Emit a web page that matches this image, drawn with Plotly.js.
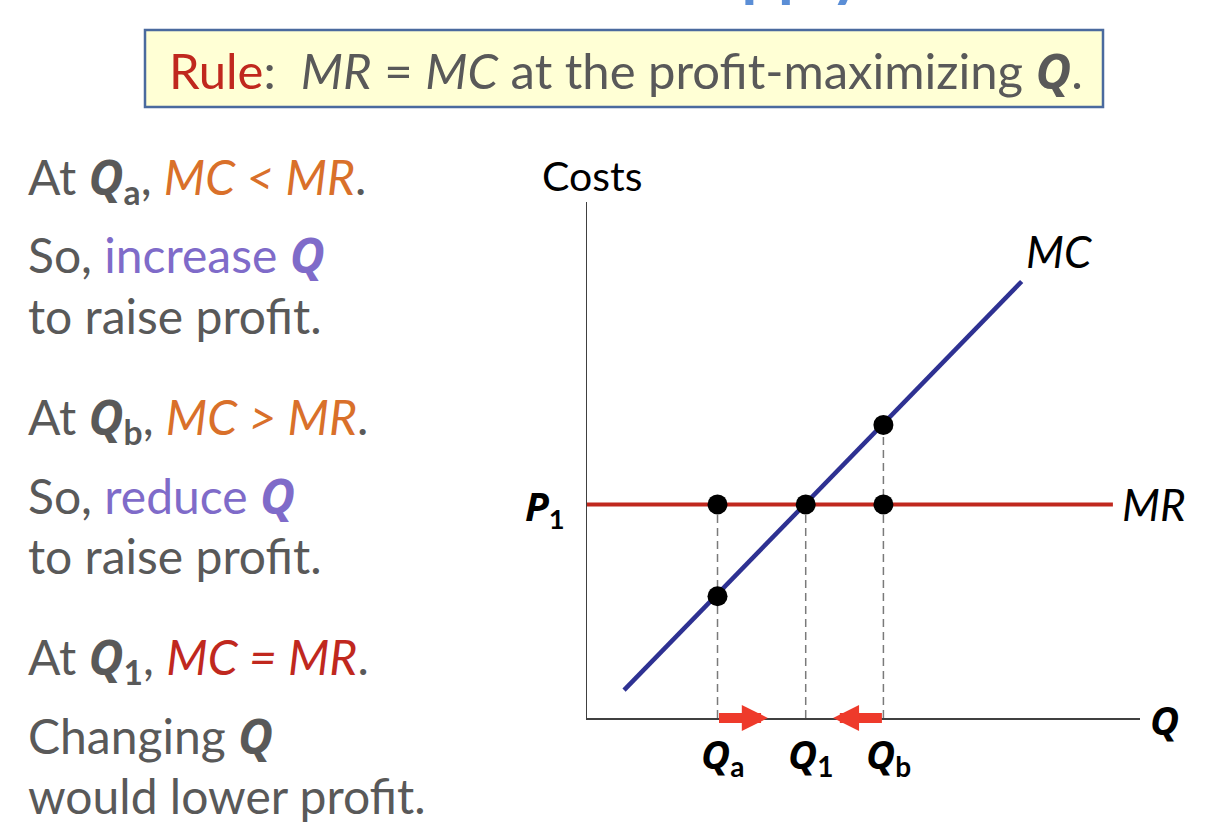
<!DOCTYPE html>
<html>
<head>
<meta charset="utf-8">
<script src="https://cdn.plot.ly/plotly-3.0.1.min.js"></script>
<style>
  html, body { margin: 0; padding: 0; background: #ffffff; }
  #chart { width: 1228px; height: 830px; }
</style>
</head>
<body>
<div id="chart"></div>
<script>
// ---- data ----
const mcQ = [0.67, 7.86];           // MC curve end points (quantity)
const mcCost = [0.54, 8.46];        // MC curve end points (cost)
const mrQ = [0, 9.51];              // MR line extent
const mrCost = [4.14, 4.14];        // MR = P1
const pointQ = [2.36, 2.36, 3.955, 5.36, 5.36];
const pointCost = [4.14, 2.36, 4.14, 4.14, 5.68];
const dropQ = [2.36, 3.955, 5.36];  // Qa, Q1, Qb
const dropTop = [4.14, 4.14, 5.68];
const qSubs = ['a', '1', 'b'];      // Q axis labels: Qa, Q1, Qb
const arrowFrom = [2.36, 5.36];     // arrow tails
const arrowTo = [3.27, 4.45];       // arrow heads

const FONT = 'Lato, "Open Sans", sans-serif';
const GRAY = '#595959';
const ORANGE = '#D9702A';
const PURPLE = '#7F6BC9';
const RED = '#C0281E';

// plot area in pixels: x 587..1140, y 202..718
const L = 587, R = 1140, T = 202, B = 718;
const px2paperX = p => (p - L) / (R - L);
const px2paperY = p => (B - p) / (B - T);

const traces = [];
// dashed drop lines
dropQ.forEach((q, i) => {
  traces.push({x: [q, q], y: [0, dropTop[i]], mode: 'lines', type: 'scatter',
    line: {color: '#7a7a7a', width: 1.5, dash: '8px,5px'}, hoverinfo: 'skip', showlegend: false});
});
traces.push({x: mrQ, y: mrCost, mode: 'lines', type: 'scatter',
  line: {color: RED, width: 4}, hoverinfo: 'skip', showlegend: false});
traces.push({x: mcQ, y: mcCost, mode: 'lines', type: 'scatter',
  line: {color: '#2E3192', width: 4.5}, hoverinfo: 'skip', showlegend: false});
traces.push({x: pointQ, y: pointCost, mode: 'markers', type: 'scatter',
  marker: {color: '#000000', size: 20}, hoverinfo: 'skip', showlegend: false});

const ann = [];
function txt(text, xp, yp, size, opts) {
  ann.push(Object.assign({xref: 'paper', yref: 'paper', x: px2paperX(xp), y: px2paperY(yp),
    text: text, showarrow: false, xanchor: 'left', yanchor: 'middle',
    font: {family: FONT, size: size, color: GRAY}}, opts || {}));
}
const c = (col, s) => `<span style="color:${col}">${s}</span>`;
// bold italic letter, drawn with a face that has a real bold italic
const bi = s => `<span style="font-family:Open Sans"><b><i>${s}</i></b></span>`;
const bq = bi('Q');

// left-hand explanation text
const leftSize = 48;
txt(`At ${bq}<sub><b>a</b></sub>, ${c(ORANGE, '<i>MC &lt; MR</i>')}.`, 26, 178, leftSize);
txt(`So, ${c(PURPLE, 'increase ' + bq)}`, 26, 255, leftSize);
txt('to raise profit.', 26, 315, leftSize);
txt(`At ${bq}<sub><b>b</b></sub>, ${c(ORANGE, '<i>MC &gt; MR</i>')}.`, 26, 418, leftSize);
txt(`So, ${c(PURPLE, 'reduce ' + bq)}`, 26, 495, leftSize);
txt('to raise profit.', 26, 555, leftSize);
txt(`At ${bq}<sub><b>1</b></sub>, ${c(RED, '<i>MC = MR</i>')}.`, 26, 658, leftSize);
txt(`Changing ${bq}`, 26, 735, leftSize);
txt('would lower profit.', 26, 795, leftSize);

// rule box text
txt(`${c(RED, 'Rule')}:  <i>MR</i> = <i>MC</i> at the profit-maximizing ${bq}.`, 626, 70, 49, {xanchor: 'center'});

// cut-off slide title at the very top
txt('<b>Supply</b>', 669, -30, 64, {xanchor: 'left', yanchor: 'middle', font: {family: FONT, size: 64, color: '#5B8ED6'}});

// chart labels
txt('Costs', 592, 176, 41, {xanchor: 'center', font: {family: FONT, size: 41, color: '#000000'}});
txt(bq, 1164, 719, 40, {xanchor: 'center', font: {family: FONT, size: 40, color: '#000000'}});
ann.push({xref: 'x', yref: 'y', x: mcQ[1], y: mcCost[1], text: '<i>MC</i>', showarrow: false,
  xanchor: 'left', yanchor: 'bottom', xshift: 2, yshift: 2, font: {family: FONT, size: 44, color: '#000'}});
ann.push({xref: 'x', yref: 'y', x: mrQ[1], y: mrCost[0], text: '<i>MR</i>', showarrow: false,
  xanchor: 'left', yanchor: 'middle', xshift: 7, font: {family: FONT, size: 44, color: '#000'}});
ann.push({xref: 'paper', yref: 'y', x: 0, y: mrCost[0], text: bi('P') + '<sub><b>1</b></sub>', showarrow: false,
  xanchor: 'right', yanchor: 'middle', xshift: -20, yshift: -3, font: {family: FONT, size: 39, color: '#000'}});
dropQ.forEach((q, i) => {
  ann.push({xref: 'x', yref: 'y', x: q, y: 0, text: bq + '<sub><b>' + qSubs[i] + '</b></sub>', showarrow: false,
    xanchor: 'center', yanchor: 'top', xshift: 5, yshift: -6, font: {family: FONT, size: 40, color: '#000'}});
});
// red arrows along the Q axis
arrowFrom.forEach((q0, i) => {
  ann.push({xref: 'x', yref: 'y', axref: 'x', ayref: 'y', x: arrowTo[i], y: 0, ax: q0, ay: 0,
    text: '', showarrow: true, arrowhead: 2, arrowsize: 0.52, arrowwidth: 10, arrowcolor: '#EE3A2B', standoff: 0});
});

const shapes = [{
  type: 'rect', xref: 'paper', yref: 'paper',
  x0: px2paperX(145), x1: px2paperX(1103), y0: px2paperY(107), y1: px2paperY(30),
  fillcolor: '#FFFFD5', line: {color: '#4A6A9E', width: 2.5}, layer: 'below'
}];

const layout = {
  width: 1228, height: 830,
  margin: {l: L, r: 1228 - R, t: T, b: 830 - B, pad: 0},
  paper_bgcolor: '#ffffff', plot_bgcolor: '#ffffff',
  showlegend: false, hovermode: false,
  xaxis: {range: [0, 10], showgrid: false, zeroline: false, showticklabels: false, ticks: '',
    showline: true, linecolor: '#404040', linewidth: 1.5, fixedrange: true},
  yaxis: {range: [0, 10], showgrid: false, zeroline: false, showticklabels: false, ticks: '',
    showline: true, linecolor: '#404040', linewidth: 1.5, fixedrange: true},
  annotations: ann, shapes: shapes
};

Plotly.newPlot('chart', traces, layout, {displayModeBar: false, staticPlot: true});
</script>
</body>
</html>
